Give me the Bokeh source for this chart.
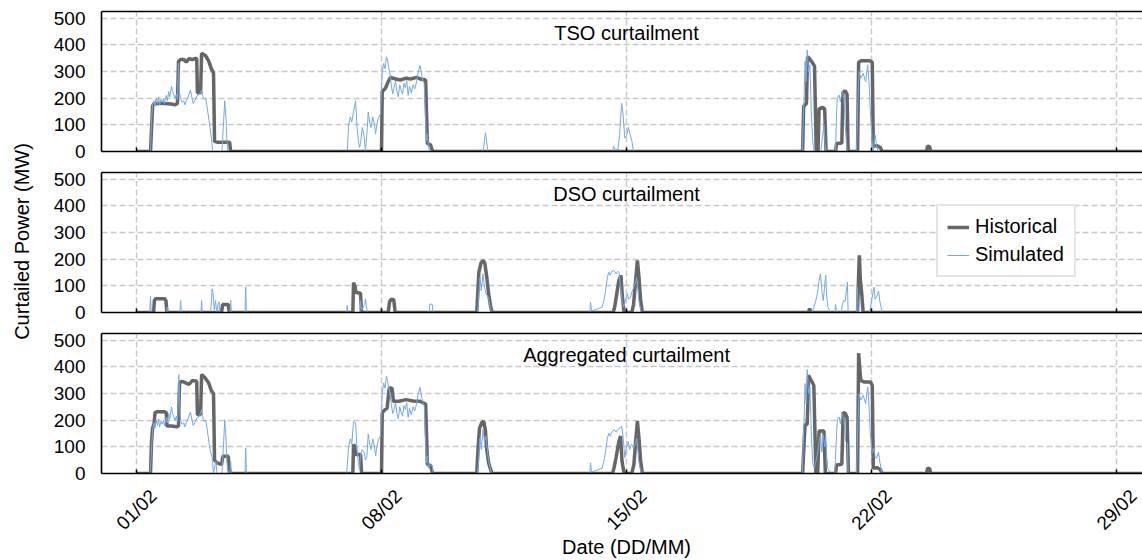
import math
from bokeh.plotting import figure
from bokeh.layouts import column, row
from bokeh.models import FixedTicker, Label, Legend, LegendItem, Range1d, LinearAxis
from bokeh.core.properties import value
from bokeh.embed import file_html
from bokeh.resources import INLINE

# x = days since 31/01 00:00
x_ticks = [1, 8, 15, 22, 29]
x_tick_labels = ["01/02", "08/02", "15/02", "22/02", "29/02"]
y_ticks = [0, 100, 200, 300, 400, 500]
panel_titles = ["TSO curtailment", "DSO curtailment", "Aggregated curtailment"]
series_names = ["Historical", "Simulated"]
x_title = "Date (DD/MM)"
y_title = "Curtailed Power (MW)"

tso_hist = [(1.00,0),(1.40,0),(1.46,170),(1.49,178),(1.60,180),(1.80,180),(2.00,178),(2.10,175),(2.17,180),(2.20,338),(2.26,345),(2.35,345),(2.42,335),(2.50,348),(2.60,345),(2.72,350),(2.74,220),(2.83,220),(2.86,368),(2.97,360),(3.06,340),(3.14,310),(3.20,295),(3.23,38),(3.30,35),(3.66,35),(3.69,0),(8.00,0),(8.02,225),(8.10,235),(8.14,245),(8.20,265),(8.26,278),(8.40,272),(8.54,268),(8.70,275),(8.83,272),(9.00,278),(9.11,272),(9.26,268),(9.31,30),(9.40,25),(9.46,0),(20.03,0),(20.06,170),(20.14,180),(20.17,355),(20.22,350),(20.30,335),(20.37,320),(20.42,0),(20.47,0),(20.50,160),(20.60,165),(20.66,160),(20.70,0),(20.97,0),(21.00,30),(21.15,32),(21.18,220),(21.24,228),(21.30,215),(21.33,0),(21.60,0),(21.63,335),(21.70,340),(21.95,340),(22.02,335),(22.05,20),(22.15,22),(22.25,15),(22.30,0),(23.57,0),(23.60,20),(23.66,18),(23.69,0),(30.00,0)]

tso_sim = [(1.00,0),(1.40,0),(1.43,120),(1.46,175),(1.50,190),(1.53,170),(1.56,200),(1.60,180),(1.63,205),(1.66,175),(1.70,195),(1.74,185),(1.77,200),(1.80,180),(1.85,210),(1.88,190),(1.92,225),(1.95,205),(2.00,245),(2.03,225),(2.06,215),(2.10,200),(2.14,215),(2.17,195),(2.20,330),(2.23,220),(2.27,195),(2.30,185),(2.35,190),(2.38,175),(2.42,190),(2.46,200),(2.50,215),(2.54,230),(2.58,205),(2.62,180),(2.66,190),(2.70,200),(2.74,210),(2.80,215),(2.86,230),(2.90,205),(2.95,195),(2.98,200),(3.03,155),(3.10,90),(3.14,50),(3.18,0),(3.44,0),(3.48,90),(3.52,190),(3.56,120),(3.58,50),(3.61,0),(7.02,0),(7.06,100),(7.11,130),(7.15,110),(7.20,150),(7.26,190),(7.30,90),(7.34,40),(7.37,15),(7.40,30),(7.45,90),(7.50,60),(7.54,0),(7.58,60),(7.62,148),(7.66,110),(7.70,90),(7.75,130),(7.80,100),(7.83,66),(7.88,110),(7.92,129),(7.97,140),(8.02,300),(8.06,330),(8.10,310),(8.14,355),(8.17,345),(8.20,320),(8.24,290),(8.28,250),(8.32,216),(8.36,240),(8.40,265),(8.44,225),(8.48,205),(8.52,250),(8.56,230),(8.60,215),(8.64,255),(8.68,240),(8.72,265),(8.76,210),(8.80,245),(8.85,220),(8.90,250),(8.95,235),(9.00,260),(9.05,300),(9.10,323),(9.14,290),(9.18,266),(9.22,255),(9.28,41),(9.31,66),(9.34,20),(9.37,0),(10.90,0),(10.94,40),(10.97,70),(11.00,40),(11.04,0),(14.60,0),(14.63,20),(14.66,10),(14.75,5),(14.80,60),(14.86,180),(14.90,140),(14.95,50),(15.00,60),(15.05,90),(15.09,70),(15.15,40),(15.20,0),(20.02,0),(20.05,120),(20.07,200),(20.10,337),(20.13,262),(20.16,381),(20.20,300),(20.24,325),(20.28,137),(20.32,40),(20.36,0),(20.55,0),(20.60,60),(20.64,100),(20.67,30),(20.70,0),(20.97,0),(21.00,150),(21.02,200),(21.07,212),(21.11,187),(21.16,225),(21.21,200),(21.26,75),(21.30,0),(21.57,0),(21.60,150),(21.64,300),(21.69,275),(21.76,293),(21.83,262),(21.89,325),(21.93,250),(21.97,137),(22.02,37),(22.05,0),(22.10,62),(22.14,30),(22.18,0),(30.00,0)]

dso_hist = [(1.00,0),(1.49,0),(1.51,45),(1.55,52),(1.80,52),(1.84,45),(1.87,0),(3.43,0),(3.46,30),(3.62,30),(3.65,0),(7.18,0),(7.20,112),(7.24,100),(7.27,75),(7.40,72),(7.43,0),(8.19,0),(8.23,40),(8.28,50),(8.35,48),(8.39,0),(10.72,0),(10.78,150),(10.84,185),(10.90,195),(10.95,185),(11.00,140),(11.06,70),(11.12,20),(11.16,0),(14.62,0),(14.66,20),(14.72,70),(14.78,120),(14.84,139),(14.88,60),(14.93,0),(15.15,0),(15.20,30),(15.26,120),(15.31,195),(15.35,140),(15.40,50),(15.45,0),(20.20,0),(20.23,15),(20.26,0),(21.60,0),(21.62,100),(21.65,214),(21.68,120),(21.72,70),(21.76,0),(30.00,0)]

dso_sim = [(1.00,0),(1.38,0),(1.40,62),(1.42,0),(1.86,0),(1.88,20),(1.90,0),(2.24,0),(2.26,45),(2.28,0),(2.84,0),(2.86,45),(2.88,0),(3.12,0),(3.16,89),(3.19,70),(3.22,10),(3.26,45),(3.29,0),(3.33,30),(3.36,40),(3.38,0),(3.67,0),(3.69,45),(3.71,0),(4.10,0),(4.12,95),(4.14,0),(7.00,0),(7.02,26),(7.04,0),(7.38,0),(7.40,45),(7.43,10),(7.52,30),(7.54,51),(7.57,20),(7.60,0),(7.98,0),(8.00,20),(8.02,0),(9.36,0),(9.38,32),(9.45,30),(9.47,0),(10.74,0),(10.77,40),(10.81,132),(10.85,82),(10.90,145),(10.94,95),(10.99,70),(11.05,57),(11.12,10),(11.16,0),(13.95,0),(13.97,39),(14.00,5),(14.10,10),(14.20,15),(14.30,20),(14.36,50),(14.40,82),(14.45,130),(14.49,151),(14.53,140),(14.58,155),(14.64,157),(14.70,145),(14.75,155),(14.78,151),(14.83,95),(14.88,40),(14.92,20),(14.97,45),(15.02,70),(15.06,50),(15.11,57),(15.16,80),(15.21,95),(15.25,110),(15.29,132),(15.35,45),(15.42,0),(20.30,0),(20.35,20),(20.40,40),(20.45,70),(20.50,120),(20.54,145),(20.58,80),(20.62,45),(20.66,100),(20.69,139),(20.72,60),(20.75,20),(20.83,0),(20.95,0),(20.97,32),(21.00,0),(21.14,0),(21.16,26),(21.20,45),(21.24,40),(21.28,80),(21.31,114),(21.33,0),(21.57,0),(21.59,95),(21.62,0),(21.95,0),(21.97,20),(22.04,76),(22.07,95),(22.10,50),(22.14,57),(22.20,80),(22.24,40),(22.30,0),(30.00,0)]

agg_hist = [(1.00,0),(1.40,0),(1.43,120),(1.46,171),(1.50,185),(1.53,228),(1.60,232),(1.80,232),(1.85,228),(1.87,178),(2.00,178),(2.15,175),(2.20,178),(2.23,340),(2.30,346),(2.40,340),(2.50,334),(2.60,349),(2.72,346),(2.74,221),(2.83,221),(2.86,371),(2.95,360),(3.06,340),(3.14,310),(3.20,300),(3.23,50),(3.30,40),(3.43,34),(3.47,65),(3.62,65),(3.65,21),(3.69,0),(7.18,0),(7.20,109),(7.24,100),(7.27,71),(7.40,71),(7.43,0),(8.00,0),(8.02,227),(8.10,240),(8.16,245),(8.22,321),(8.30,320),(8.34,271),(8.50,271),(8.70,277),(8.90,272),(9.10,271),(9.26,260),(9.31,34),(9.40,30),(9.46,0),(10.72,0),(10.76,100),(10.80,170),(10.86,190),(10.92,196),(10.97,160),(11.00,96),(11.06,40),(11.10,21),(11.16,0),(14.60,0),(14.64,20),(14.70,59),(14.78,120),(14.83,140),(14.87,46),(14.93,0),(15.15,0),(15.21,34),(15.26,120),(15.31,196),(15.35,140),(15.40,50),(15.45,0),(20.03,0),(20.07,108),(20.10,184),(20.16,184),(20.20,368),(20.25,355),(20.30,343),(20.35,330),(20.41,0),(20.46,0),(20.50,159),(20.64,159),(20.68,0),(20.97,0),(21.00,32),(21.15,35),(21.19,229),(21.25,225),(21.30,210),(21.34,0),(21.60,0),(21.63,451),(21.66,400),(21.69,349),(21.80,343),(21.97,343),(22.02,330),(22.05,20),(22.15,22),(22.25,15),(22.30,0),(23.57,0),(23.60,20),(23.66,18),(23.69,0),(30.00,0)]

agg_sim = [(1.00,0),(1.38,0),(1.42,62),(1.44,120),(1.47,175),(1.50,190),(1.53,170),(1.56,200),(1.60,180),(1.63,205),(1.66,175),(1.70,195),(1.74,185),(1.77,200),(1.80,180),(1.85,210),(1.88,190),(1.92,225),(1.95,205),(2.00,250),(2.03,225),(2.06,215),(2.10,200),(2.14,215),(2.17,195),(2.21,371),(2.24,230),(2.27,195),(2.30,185),(2.35,190),(2.38,175),(2.42,190),(2.46,200),(2.50,215),(2.54,230),(2.58,205),(2.62,180),(2.66,190),(2.70,200),(2.74,210),(2.80,215),(2.86,240),(2.90,205),(2.95,195),(2.98,200),(3.03,155),(3.10,90),(3.16,60),(3.20,0),(3.24,30),(3.27,45),(3.30,0),(3.44,0),(3.48,90),(3.52,202),(3.56,120),(3.58,50),(3.61,0),(3.67,0),(3.69,45),(3.71,0),(4.10,0),(4.12,95),(4.14,0),(7.00,0),(7.02,26),(7.06,100),(7.11,130),(7.15,110),(7.20,195),(7.26,190),(7.30,90),(7.34,40),(7.37,15),(7.40,70),(7.45,90),(7.50,80),(7.54,51),(7.58,60),(7.62,148),(7.66,110),(7.70,90),(7.75,130),(7.80,100),(7.83,66),(7.88,110),(7.92,129),(7.97,140),(8.02,300),(8.06,340),(8.10,320),(8.14,365),(8.17,350),(8.20,325),(8.24,300),(8.28,260),(8.32,225),(8.36,240),(8.40,265),(8.44,225),(8.48,205),(8.52,250),(8.56,230),(8.60,215),(8.64,255),(8.68,240),(8.72,265),(8.76,210),(8.80,245),(8.85,220),(8.90,250),(8.95,235),(9.00,260),(9.05,300),(9.10,323),(9.14,290),(9.18,266),(9.22,255),(9.28,41),(9.31,66),(9.34,20),(9.38,32),(9.45,30),(9.47,0),(10.74,0),(10.77,40),(10.81,132),(10.85,90),(10.90,165),(10.94,120),(10.98,140),(11.02,90),(11.06,50),(11.12,10),(11.16,0),(13.95,0),(13.97,39),(14.00,5),(14.10,10),(14.20,15),(14.30,20),(14.36,50),(14.40,82),(14.45,130),(14.49,151),(14.53,140),(14.58,155),(14.64,165),(14.70,155),(14.75,165),(14.80,170),(14.86,178),(14.90,140),(14.95,60),(15.00,100),(15.05,120),(15.09,90),(15.14,110),(15.20,95),(15.25,110),(15.29,132),(15.35,45),(15.42,0),(20.02,0),(20.05,120),(20.07,200),(20.10,337),(20.13,262),(20.16,390),(20.20,300),(20.24,325),(20.28,137),(20.32,40),(20.36,20),(20.40,40),(20.45,70),(20.50,120),(20.54,145),(20.58,80),(20.62,145),(20.66,100),(20.69,139),(20.72,60),(20.75,20),(20.83,0),(20.95,0),(21.00,150),(21.02,200),(21.07,212),(21.11,187),(21.16,225),(21.21,200),(21.26,120),(21.31,114),(21.33,0),(21.57,0),(21.60,150),(21.64,300),(21.69,275),(21.76,293),(21.83,262),(21.89,325),(21.93,250),(21.97,137),(22.02,76),(22.07,95),(22.10,62),(22.14,57),(22.20,80),(22.24,40),(22.30,0),(30.00,0)]

FONT = "Liberation Sans"
HIST_COLOR = "#666666"
SIM_COLOR = "#74a9e6"

x_range = Range1d(0, 29.74)
LEFT_W = 38
PANEL_LEFT = 101 - LEFT_W
heights = [(11, 10), (11, 10), (11, 11)]
BOTTOM_H = 560 - sum(t + 140 + b for t, b in heights)


def make_panel(hist, sim, title, idx):
    top, bottom = heights[idx]
    p = figure(frame_width=1041, frame_height=140, x_range=x_range, y_range=Range1d(0, 525),
               output_backend="svg", toolbar_location=None,
               min_border_left=PANEL_LEFT, min_border_right=0,
               min_border_top=top, min_border_bottom=bottom)
    p.background_fill_color = "white"
    p.border_fill_color = "white"
    p.outline_line_color = None

    hr = p.line([t for t, v in hist], [v for t, v in hist], line_color=HIST_COLOR, line_width=3.5)
    sr = p.line([t for t, v in sim], [v for t, v in sim], line_color=SIM_COLOR, line_width=1.0)

    p.xgrid.ticker = FixedTicker(ticks=x_ticks)
    p.yaxis.ticker = FixedTicker(ticks=y_ticks)
    p.ygrid.ticker = FixedTicker(ticks=y_ticks)

    for g in (p.xgrid, p.ygrid):
        g.grid_line_color = "#c8c8c8"
        g.grid_line_dash = "6 3"
        g.grid_line_width = 1.4

    ya = p.yaxis[0]
    ya.axis_line_color = "black"
    ya.axis_line_width = 1.6
    ya.minor_tick_line_color = None
    ya.major_tick_line_color = None
    ya.major_label_text_font = FONT
    ya.major_label_text_font_size = "19px"
    ya.major_label_text_color = "black"
    ya.major_label_standoff = 10

    # bottom axis: only inner tick marks (as minor ticks), no labels
    xa = p.xaxis[0]
    xa.ticker = FixedTicker(ticks=[], minor_ticks=x_ticks)
    xa.axis_line_color = "black"
    xa.axis_line_width = 1.6
    xa.major_label_standoff = 0
    xa.major_tick_out = 0
    xa.major_tick_in = 0
    xa.minor_tick_in = 4
    xa.minor_tick_out = 0
    xa.minor_tick_line_color = "black"
    xa.minor_tick_line_width = 1.5

    top_ax = LinearAxis(ticker=FixedTicker(ticks=[], minor_ticks=[]),
                        major_label_standoff=0, major_tick_out=0, major_tick_in=0,
                        minor_tick_out=0, minor_tick_in=0,
                        axis_line_color="black", axis_line_width=1.6)
    p.add_layout(top_ax, "above")

    p.add_layout(Label(x=15.0, y=443, text=title, text_align="center", text_baseline="middle",
                       text_font=FONT, text_font_size="20px", text_color="black"))

    if idx == 1:
        leg = Legend(items=[LegendItem(label=series_names[0], renderers=[hr]),
                            LegendItem(label=series_names[1], renderers=[sr])],
                     location=(835, 35))
        leg.label_text_font = FONT
        leg.label_text_font_size = "20px"
        leg.label_text_color = "black"
        leg.glyph_width = 22
        leg.glyph_height = 22
        leg.label_height = 22
        leg.label_width = 90
        leg.label_standoff = 6
        leg.spacing = 5
        leg.padding = 9
        leg.margin = 0
        leg.border_line_color = "#cccccc"
        leg.border_line_width = 2
        leg.background_fill_color = "white"
        leg.background_fill_alpha = 1.0
        p.add_layout(leg)
    return p


panels = [make_panel(tso_hist, tso_sim, panel_titles[0], 0),
          make_panel(dso_hist, dso_sim, panel_titles[1], 1),
          make_panel(agg_hist, agg_sim, panel_titles[2], 2)]

# strip under the last panel holding the rotated date labels and the x title
strip_top = sum(t + 140 + b for t, b in heights)   # page y of the strip's top edge
bottom = figure(frame_width=1041, frame_height=BOTTOM_H, x_range=x_range, y_range=Range1d(0, BOTTOM_H),
                output_backend="svg", toolbar_location=None,
                min_border_left=PANEL_LEFT, min_border_right=0, min_border_top=0, min_border_bottom=0)
bottom.axis.visible = False
bottom.grid.visible = False
bottom.outline_line_color = None
bottom.border_fill_color = "white"
bottom.text(x=x_ticks, y=[BOTTOM_H - (509 - strip_top)] * len(x_ticks), text=x_tick_labels,
            angle=math.pi / 4, text_align="center", text_baseline="middle", text_font=value(FONT),
            text_font_size="19px", text_color="black")
bottom.add_layout(Label(x=15.0, y=BOTTOM_H - (546 - strip_top), text=x_title, text_align="center",
                        text_baseline="middle", text_font=FONT, text_font_size="20px",
                        text_color="black"))

total_h = 560
left = figure(width=LEFT_W, height=total_h, x_range=Range1d(0, LEFT_W), y_range=Range1d(0, total_h),
              output_backend="svg", toolbar_location=None,
              min_border_left=0, min_border_right=0, min_border_top=0, min_border_bottom=0)
left.axis.visible = False
left.grid.visible = False
left.outline_line_color = None
left.border_fill_color = "white"
left.add_layout(Label(x=21, y=total_h - 241, text=y_title, angle=math.pi / 2,
                      text_align="center", text_baseline="middle",
                      text_font=FONT, text_font_size="20px", text_color="black"))

layout = row(left, column(*panels, bottom, spacing=0), spacing=0)
open("out.html", "w").write(file_html(layout, INLINE))
